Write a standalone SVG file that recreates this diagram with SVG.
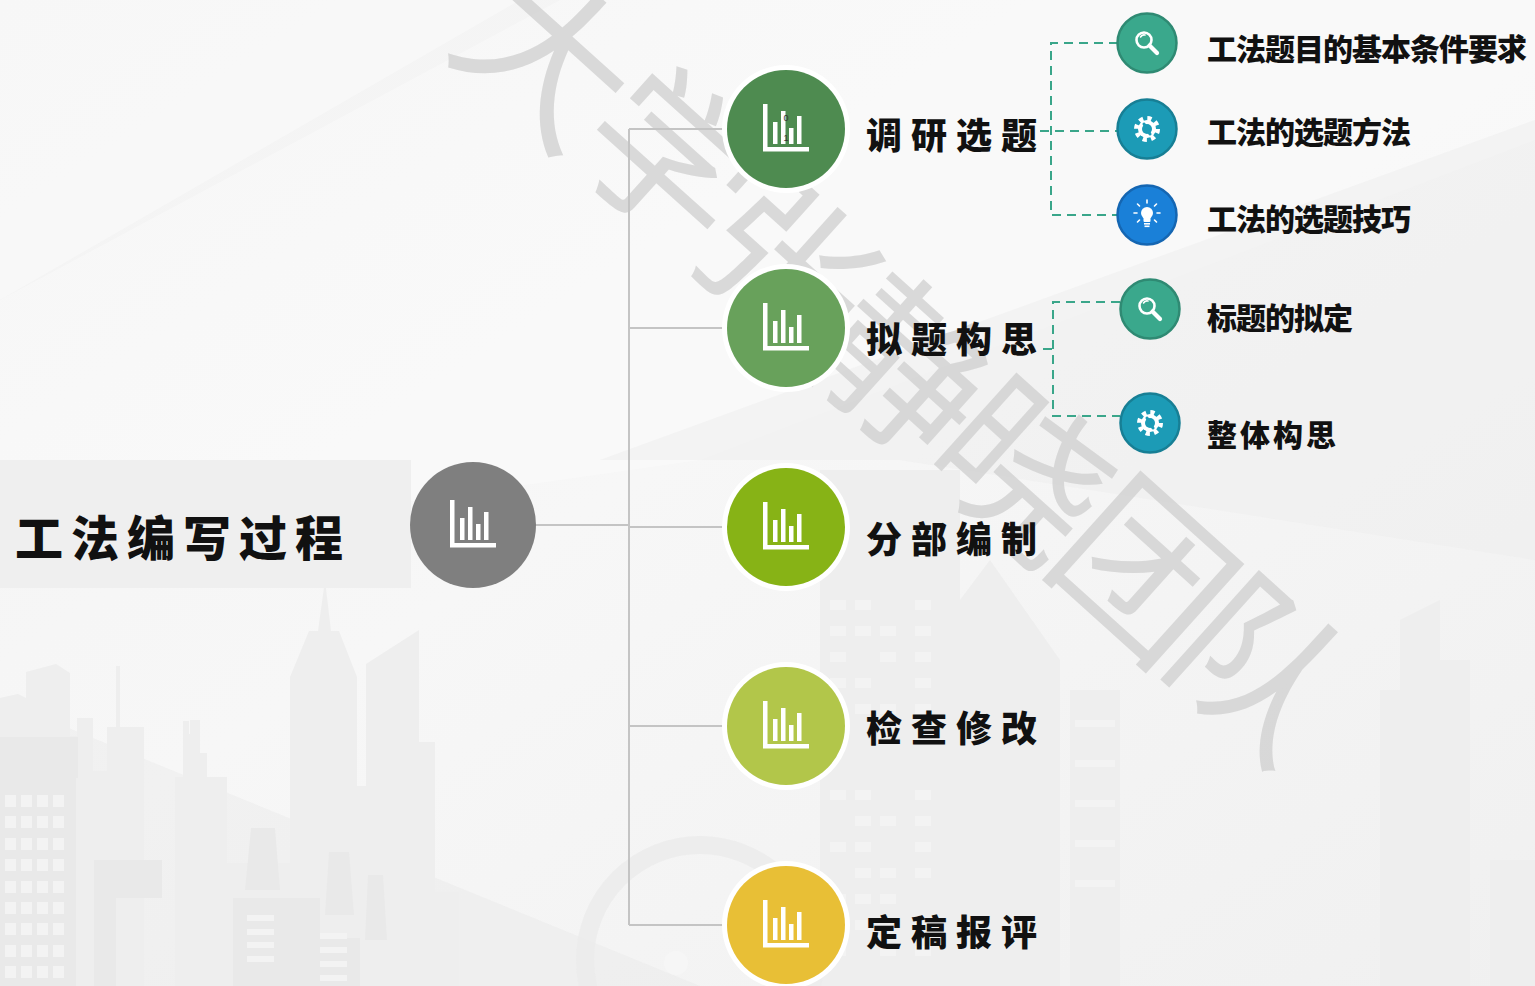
<svg xmlns="http://www.w3.org/2000/svg" xmlns:xlink="http://www.w3.org/1999/xlink" width="1535" height="986" viewBox="0 0 1535 986">
  <defs>
    <linearGradient id="bg" x1="0" y1="0" x2="1" y2="1">
      <stop offset="0" stop-color="#f3f3f3"/>
      <stop offset="0.45" stop-color="#f7f7f7"/>
      <stop offset="1" stop-color="#f0f0f0"/>
    </linearGradient>
    <!-- bar chart glyph used inside every large circle -->
    <g id="chart" fill="#ffffff">
      <rect x="-23" y="-25" width="4.5" height="47"/>
      <rect x="-23" y="18" width="46" height="4.5"/>
      <rect x="-13" y="-7" width="4.5" height="22"/>
      <rect x="-5" y="-18" width="4.5" height="33"/>
      <rect x="3" y="-1" width="4.5" height="16"/>
      <rect x="11" y="-13" width="4.5" height="28"/>
    </g>
    <g id="magnifier" fill="none" stroke="#ffffff" stroke-linecap="round">
      <circle cx="-3" cy="-3" r="7.5" stroke-width="2.6"/>
      <path d="M-6.5,-6 A4,4 0 0 1 -2,-8" stroke-width="1.6"/>
      <line x1="2.5" y1="2.5" x2="10" y2="10" stroke-width="4.2"/>
    </g>
    <g id="bulb" fill="#ffffff">
      <circle cx="0" cy="-2" r="6"/>
      <rect x="-3.5" y="2" width="7" height="5" rx="1"/>
      <rect x="-3" y="8" width="6" height="1.6"/>
      <rect x="-2.5" y="10.5" width="5" height="1.6"/>
      <g stroke="#ffffff" stroke-width="1.6" stroke-linecap="round">
        <line x1="0" y1="-15" x2="0" y2="-12"/>
        <line x1="-9.5" y1="-11" x2="-7.5" y2="-9"/>
        <line x1="9.5" y1="-11" x2="7.5" y2="-9"/>
        <line x1="-13" y1="-2" x2="-10" y2="-2"/>
        <line x1="13" y1="-2" x2="10" y2="-2"/>
        <line x1="-9.5" y1="7" x2="-7.5" y2="5"/>
        <line x1="9.5" y1="7" x2="7.5" y2="5"/>
      </g>
    </g>
    <g id="gear-base">
      <circle cx="0" cy="0" r="10.5" fill="none" stroke="#ffffff" stroke-width="5" stroke-dasharray="4.1 4.15"/>
      <circle cx="0" cy="0" r="9" fill="#ffffff"/>
    </g>
  </defs>

  <style>
    .title { font-family: "Noto Sans CJK SC", "Noto Sans", sans-serif; font-weight: 900; fill: #111111; }
    .main-label { font-family: "Noto Sans CJK SC", "Noto Sans", sans-serif; font-weight: 900; font-size: 36px; letter-spacing: 9px; fill: #111111; }
    .sub-label { font-family: "Noto Sans CJK SC", "Noto Sans", sans-serif; font-weight: 900; font-size: 30px; letter-spacing: -1px; fill: #111111; }
    .sub-label.wide { letter-spacing: 3px; }
    .watermark { font-family: "Noto Sans CJK SC", "Noto Sans", sans-serif; font-weight: 400; font-size: 168px; fill: #cfcfcf; opacity: 0.75; }
    .trunk { stroke: #c4c4c4; stroke-width: 2; fill: none; }
    .dash { stroke: #3aa68a; stroke-width: 2; fill: none; stroke-dasharray: 9 6; }
    .ring { fill: #ffffff; }
    .building { fill: #e9e9e9; }
    .building-far { fill: #eeeeee; }
    .window { fill: #f3f3f3; }
  </style>

  <!-- backdrop -->
  <rect x="0" y="0" width="1535" height="986" fill="url(#bg)"/>
  <polygon points="0,0 520,0 0,300" fill="#ffffff" opacity="0.35"/>
  <polygon points="0,300 560,0 1535,0 1535,140 700,460 0,560" fill="#ffffff" opacity="0.3"/>
  <polygon points="600,460 1535,120 1535,560 900,460" fill="#eeeeee" opacity="0.5"/>
  <polygon points="0,700 700,986 0,986" fill="#e6e6e6" opacity="0.35"/>

  <!-- skyline -->
  <g id="skyline">
    <path class="building-far" d="M0,698 L18,694 L26,698 L26,672 L56,664 L70,673 L70,736 L77,736 L77,718 L93,718 L93,771 L107,771 L107,727 L116,727 L116,666 L120,666 L120,727 L144,727 L144,986 L0,986 Z"/>
    <path class="building-far" d="M175,986 L175,777 L183,777 L183,721 L189,721 L189,734 L190,734 L190,720 L200,720 L200,753 L207,753 L207,777 L227,777 L227,863 L290,863 L290,677 L309,631 L318,631 L325,580 L331,631 L339,631 L357,677 L357,786 L366,786 L366,664 L419,630 L419,742 L435,742 L435,892 L459,892 L459,986 Z"/>
    <path class="building" d="M0,737 L0,986 L76,986 L76,778 L78,778 L78,737 Z"/>
    <g class="window">
      <rect x="5" y="795" width="11" height="12"/><rect x="21" y="795" width="11" height="12"/><rect x="37" y="795" width="11" height="12"/><rect x="53" y="795" width="11" height="12"/>
      <rect x="5" y="816" width="11" height="12"/><rect x="21" y="816" width="11" height="12"/><rect x="37" y="816" width="11" height="12"/><rect x="53" y="816" width="11" height="12"/>
      <rect x="5" y="838" width="11" height="12"/><rect x="21" y="838" width="11" height="12"/><rect x="37" y="838" width="11" height="12"/><rect x="53" y="838" width="11" height="12"/>
      <rect x="5" y="859" width="11" height="12"/><rect x="21" y="859" width="11" height="12"/><rect x="37" y="859" width="11" height="12"/><rect x="53" y="859" width="11" height="12"/>
      <rect x="5" y="881" width="11" height="12"/><rect x="21" y="881" width="11" height="12"/><rect x="37" y="881" width="11" height="12"/><rect x="53" y="881" width="11" height="12"/>
      <rect x="5" y="902" width="11" height="12"/><rect x="21" y="902" width="11" height="12"/><rect x="37" y="902" width="11" height="12"/><rect x="53" y="902" width="11" height="12"/>
      <rect x="5" y="923" width="11" height="12"/><rect x="21" y="923" width="11" height="12"/><rect x="37" y="923" width="11" height="12"/><rect x="53" y="923" width="11" height="12"/>
      <rect x="5" y="945" width="11" height="12"/><rect x="21" y="945" width="11" height="12"/><rect x="37" y="945" width="11" height="12"/><rect x="53" y="945" width="11" height="12"/>
      <rect x="5" y="966" width="11" height="12"/><rect x="21" y="966" width="11" height="12"/><rect x="37" y="966" width="11" height="12"/><rect x="53" y="966" width="11" height="12"/>
    </g>
    <path class="building" d="M94,986 L94,860 L162,860 L162,898 L116,898 L116,986 Z"/>
    <path class="building" d="M233,986 L233,898 L320,898 L320,986 Z"/>
    <path class="building" d="M245,890 L251,828 L275,828 L280,890 Z"/>
    <path class="building" d="M325,915 L329,852 L349,852 L354,915 Z"/>
    <path class="building" d="M365,940 L368,875 L383,875 L387,940 Z"/>
    <path class="building" d="M320,938 L360,938 L360,986 L320,986 Z"/>
    <g class="window">
      <rect x="247" y="915" width="27" height="6"/><rect x="247" y="929" width="27" height="6"/><rect x="247" y="942" width="27" height="6"/><rect x="247" y="956" width="27" height="6"/>
      <rect x="320" y="933" width="27" height="6"/><rect x="320" y="947" width="27" height="6"/><rect x="320" y="961" width="27" height="6"/><rect x="320" y="975" width="27" height="6"/>
    </g>
    <!-- right-hand blocks -->
    <path class="building-far" d="M820,986 L820,470 L960,470 L960,600 L990,560 L1060,660 L1060,986 Z"/>
    <g class="window">
      <rect x="830" y="600" width="16" height="10"/><rect x="855" y="600" width="16" height="10"/><rect x="915" y="600" width="16" height="10"/>
      <rect x="830" y="626" width="16" height="10"/><rect x="855" y="626" width="16" height="10"/><rect x="880" y="626" width="16" height="10"/><rect x="915" y="626" width="16" height="10"/>
      <rect x="830" y="652" width="16" height="10"/><rect x="880" y="652" width="16" height="10"/><rect x="915" y="652" width="16" height="10"/>
      <rect x="830" y="678" width="16" height="10"/><rect x="855" y="678" width="16" height="10"/><rect x="915" y="678" width="16" height="10"/>
      <rect x="855" y="704" width="16" height="10"/><rect x="880" y="704" width="16" height="10"/><rect x="915" y="704" width="16" height="10"/>
      <rect x="830" y="790" width="16" height="10"/><rect x="855" y="790" width="16" height="10"/><rect x="915" y="790" width="16" height="10"/>
      <rect x="855" y="816" width="16" height="10"/><rect x="880" y="816" width="16" height="10"/><rect x="915" y="816" width="16" height="10"/>
      <rect x="830" y="842" width="16" height="10"/><rect x="855" y="842" width="16" height="10"/><rect x="915" y="842" width="16" height="10"/>
      <rect x="855" y="868" width="16" height="10"/><rect x="880" y="868" width="16" height="10"/><rect x="915" y="868" width="16" height="10"/>
      <rect x="830" y="894" width="16" height="10"/><rect x="855" y="894" width="16" height="10"/><rect x="880" y="894" width="16" height="10"/>
      <rect x="855" y="920" width="16" height="10"/><rect x="915" y="920" width="16" height="10"/>
      <rect x="830" y="946" width="16" height="10"/><rect x="880" y="946" width="16" height="10"/><rect x="915" y="946" width="16" height="10"/>
    </g>
    <path class="building-far" d="M1070,986 L1070,690 L1120,690 L1120,986 Z"/>
    <g class="window">
      <rect x="1075" y="720" width="40" height="7"/><rect x="1075" y="760" width="40" height="7"/><rect x="1075" y="800" width="40" height="7"/><rect x="1075" y="840" width="40" height="7"/><rect x="1075" y="880" width="40" height="7"/>
    </g>
    <path class="building-far" d="M1380,986 L1380,690 L1400,690 L1400,620 L1440,600 L1440,660 L1470,660 L1470,986 Z"/>
    <path class="building-far" d="M1490,986 L1490,860 L1535,860 L1535,986 Z"/>
    <circle cx="700" cy="960" r="115" fill="none" stroke="#ebebeb" stroke-width="18" opacity="0.8"/>
    <circle cx="676" cy="963" r="12" fill="#f6f6f6"/>
  </g>

  <!-- diagonal watermark lettering -->
  <g id="watermark">
    <text class="watermark" transform="translate(556,48) rotate(42)" text-anchor="middle" dominant-baseline="central">大</text>
    <text class="watermark" transform="translate(678,150) rotate(42)" text-anchor="middle" dominant-baseline="central">学</text>
    <text class="watermark" transform="translate(796,256) rotate(42)" text-anchor="middle" dominant-baseline="central">张</text>
    <text class="watermark" transform="translate(912,360) rotate(42)" text-anchor="middle" dominant-baseline="central">静</text>
    <text class="watermark" transform="translate(1032,462) rotate(42)" text-anchor="middle" dominant-baseline="central">晓</text>
    <text class="watermark" transform="translate(1152,562) rotate(42)" text-anchor="middle" dominant-baseline="central">团</text>
    <text class="watermark" transform="translate(1268,660) rotate(42)" text-anchor="middle" dominant-baseline="central">队</text>
  </g>

  <!-- connectors -->
  <g id="connectors">
    <path class="trunk" d="M535,525 H629"/>
    <path class="trunk" d="M629,129 V925"/>
    <path class="trunk" d="M629,129 H724"/>
    <path class="trunk" d="M629,328 H724"/>
    <path class="trunk" d="M629,527 H724"/>
    <path class="trunk" d="M629,726 H724"/>
    <path class="trunk" d="M629,925 H724"/>
    <path class="dash" d="M1118,43 H1051 V215 H1118"/>
    <path class="dash" d="M1040,131 H1118"/>
    <path class="dash" d="M1120,302 H1053 V416 H1120"/>
    <path class="dash" d="M1043,349 H1053"/>
  </g>

  <!-- root node -->
  <g id="root">
    <rect x="0" y="460" width="411" height="128" fill="#efefef"/>
    <text class="title" x="15" y="535" font-size="48" letter-spacing="8" dominant-baseline="central">工法编写过程</text>
    <circle cx="473" cy="525" r="63" fill="#7f7f7f"/>
    <use href="#chart" xlink:href="#chart" x="473" y="525"/>
  </g>

  <!-- main stages -->
  <g id="stage-1">
    <circle class="ring" cx="786" cy="129" r="64"/>
    <circle cx="786" cy="129" r="59" fill="#4e8b50"/>
    <use href="#chart" xlink:href="#chart" x="786" y="129"/>
    <text x="786" y="121" font-family="Liberation Sans, sans-serif" font-size="9" fill="#333333" text-anchor="middle">0</text>
    <text x="786" y="141" font-family="Liberation Sans, sans-serif" font-size="9" fill="#333333" text-anchor="middle">1</text>
    <text class="main-label" x="866" y="133" dominant-baseline="central">调研选题</text>
  </g>
  <g id="stage-2">
    <circle class="ring" cx="786" cy="328" r="64"/>
    <circle cx="786" cy="328" r="59" fill="#68a15b"/>
    <use href="#chart" xlink:href="#chart" x="786" y="328"/>
    <text class="main-label" x="866" y="337" dominant-baseline="central">拟题构思</text>
  </g>
  <g id="stage-3">
    <circle class="ring" cx="786" cy="527" r="64"/>
    <circle cx="786" cy="527" r="59" fill="#87b316"/>
    <use href="#chart" xlink:href="#chart" x="786" y="527"/>
    <text class="main-label" x="866" y="537" dominant-baseline="central">分部编制</text>
  </g>
  <g id="stage-4">
    <circle class="ring" cx="786" cy="726" r="64"/>
    <circle cx="786" cy="726" r="59" fill="#b2c64a"/>
    <use href="#chart" xlink:href="#chart" x="786" y="726"/>
    <text class="main-label" x="866" y="726" dominant-baseline="central">检查修改</text>
  </g>
  <g id="stage-5">
    <circle class="ring" cx="786" cy="925" r="64"/>
    <circle cx="786" cy="925" r="59" fill="#e8bf36"/>
    <use href="#chart" xlink:href="#chart" x="786" y="925"/>
    <text class="main-label" x="866" y="930" dominant-baseline="central">定稿报评</text>
  </g>

  <!-- sub-items of 调研选题 -->
  <g id="sub-1-1">
    <circle cx="1147" cy="43" r="29.5" fill="#3aa88c" stroke="#2f8a73" stroke-width="2.5"/>
    <use href="#magnifier" xlink:href="#magnifier" x="1147" y="43"/>
    <text class="sub-label" x="1207" y="47" dominant-baseline="central">工法题目的基本条件要求</text>
  </g>
  <g id="sub-1-2">
    <circle cx="1147" cy="129" r="29.5" fill="#1c9bb6" stroke="#177f95" stroke-width="2.5"/>
    <use href="#gear-base" xlink:href="#gear-base" x="1147" y="129"/>
    <circle cx="1147" cy="129" r="5" fill="#1c9bb6"/>
    <path d="M1144,124 L1150,134" stroke="#1c9bb6" stroke-width="3" stroke-linecap="round"/>
    <text class="sub-label" x="1207" y="130" dominant-baseline="central">工法的选题方法</text>
  </g>
  <g id="sub-1-3">
    <circle cx="1147" cy="215" r="29.5" fill="#1a80d8" stroke="#1566b2" stroke-width="2.5"/>
    <use href="#bulb" xlink:href="#bulb" x="1147" y="215"/>
    <text class="sub-label" x="1207" y="217" dominant-baseline="central">工法的选题技巧</text>
  </g>

  <!-- sub-items of 拟题构思 -->
  <g id="sub-2-1">
    <circle cx="1150" cy="309" r="29.5" fill="#3aa88c" stroke="#2f8a73" stroke-width="2.5"/>
    <use href="#magnifier" xlink:href="#magnifier" x="1150" y="309"/>
    <text class="sub-label" x="1207" y="316" dominant-baseline="central">标题的拟定</text>
  </g>
  <g id="sub-2-2">
    <circle cx="1150" cy="423" r="29.5" fill="#1c9bb6" stroke="#177f95" stroke-width="2.5"/>
    <use href="#gear-base" xlink:href="#gear-base" x="1150" y="423"/>
    <circle cx="1150" cy="423" r="5" fill="#1c9bb6"/>
    <path d="M1147,418 L1153,428" stroke="#1c9bb6" stroke-width="3" stroke-linecap="round"/>
    <text class="sub-label wide" x="1207" y="433" dominant-baseline="central">整体构思</text>
  </g>
</svg>
